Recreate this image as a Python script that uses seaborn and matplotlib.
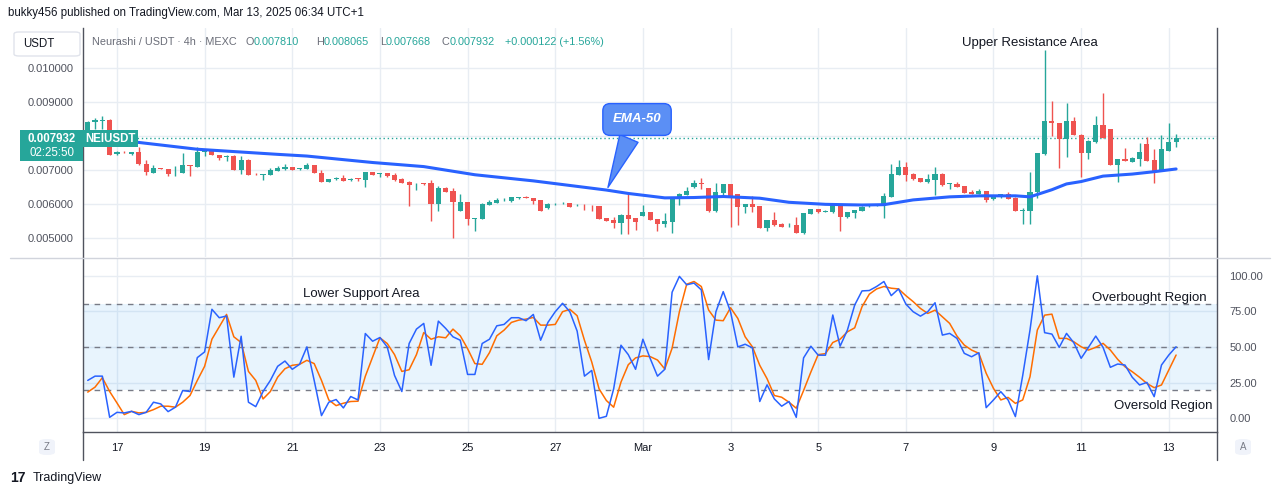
# -*- coding: utf-8 -*-
# Neurashi / USDT 4h chart with EMA-50 and Stoch RSI (TradingView style)
import numpy as np
import seaborn as sns
import matplotlib.pyplot as plt
from matplotlib.patches import FancyBboxPatch, Rectangle

sns.set_theme(style="white")
plt.rcParams['font.family'] = ['Liberation Sans', 'DejaVu Sans']

# ---------------- data ----------------
opens = [0.00818, 0.00840, 0.00844, 0.00847, 0.00746, 0.00754, 0.00746, 0.00754, 0.00718, 0.00692,
         0.00705, 0.00703, 0.00699, 0.00692, 0.00714, 0.00710, 0.00753, 0.00759, 0.00744, 0.00739,
         0.00742, 0.00700, 0.00730, 0.00689, 0.00686, 0.00686, 0.00696, 0.00703, 0.00708, 0.00702,
         0.00704, 0.00715, 0.00692, 0.00666, 0.00673, 0.00676, 0.00670, 0.00674, 0.00670, 0.00694,
         0.00689, 0.00690, 0.00685, 0.00674, 0.00666, 0.00661, 0.00661, 0.00663, 0.00600, 0.00648,
         0.00639, 0.00578, 0.00606, 0.00557, 0.00556, 0.00597, 0.00602, 0.00611, 0.00610, 0.00619,
         0.00622, 0.00617, 0.00612, 0.00587, 0.00599, 0.00602, 0.00603, 0.00596, 0.00598, 0.00595,
         0.00594, 0.00558, 0.00553, 0.00545, 0.00568, 0.00558, 0.00565, 0.00576, 0.00555, 0.00542,
         0.00548, 0.00614, 0.00626, 0.00649, 0.00661, 0.00646, 0.00578, 0.00633, 0.00659, 0.00629,
         0.00592, 0.00600, 0.00594, 0.00530, 0.00553, 0.00541, 0.00534, 0.00538, 0.00516, 0.00571,
         0.00584, 0.00577, 0.00575, 0.00597, 0.00563, 0.00574, 0.00580, 0.00593, 0.00594, 0.00595,
         0.00621, 0.00686, 0.00708, 0.00688, 0.00676, 0.00666, 0.00670, 0.00688, 0.00660, 0.00659,
         0.00653, 0.00635, 0.00629, 0.00638, 0.00614, 0.00620, 0.00629, 0.00619, 0.00579, 0.00580,
         0.00636, 0.00747, 0.00844, 0.00837, 0.00790, 0.00844, 0.00803, 0.00749, 0.00783, 0.00832,
         0.00820, 0.00715, 0.00732, 0.00724, 0.00732, 0.00776, 0.00730, 0.00697, 0.00756, 0.007810]
highs = [0.00845, 0.00852, 0.00858, 0.00849, 0.00756, 0.00757, 0.00754, 0.00767, 0.00729, 0.00714,
         0.00706, 0.00704, 0.00713, 0.00749, 0.00715, 0.00767, 0.00762, 0.00760, 0.00745, 0.00744,
         0.00743, 0.00742, 0.00731, 0.00690, 0.00688, 0.00706, 0.00712, 0.00718, 0.00709, 0.00706,
         0.00720, 0.00716, 0.00700, 0.00674, 0.00678, 0.00685, 0.00675, 0.00675, 0.00695, 0.00695,
         0.00691, 0.00691, 0.00692, 0.00675, 0.00667, 0.00663, 0.00662, 0.00670, 0.00653, 0.00651,
         0.00648, 0.00630, 0.00607, 0.00560, 0.00603, 0.00612, 0.00617, 0.00619, 0.00621, 0.00621,
         0.00624, 0.00618, 0.00613, 0.00602, 0.00602, 0.00607, 0.00604, 0.00601, 0.00599, 0.00596,
         0.00595, 0.00559, 0.00562, 0.00570, 0.00631, 0.00559, 0.00597, 0.00577, 0.00556, 0.00573,
         0.00621, 0.00631, 0.00649, 0.00671, 0.00676, 0.00647, 0.00662, 0.00660, 0.00660, 0.00630,
         0.00601, 0.00624, 0.00595, 0.00554, 0.00577, 0.00545, 0.00545, 0.00562, 0.00574, 0.00585,
         0.00586, 0.00582, 0.00599, 0.00598, 0.00577, 0.00583, 0.00593, 0.00597, 0.00601, 0.00631,
         0.00718, 0.00730, 0.00724, 0.00690, 0.00677, 0.00688, 0.00710, 0.00690, 0.00663, 0.00665,
         0.00654, 0.00640, 0.00643, 0.00639, 0.00623, 0.00630, 0.00634, 0.00620, 0.00587, 0.00694,
         0.00750, 0.01053, 0.00903, 0.00838, 0.00898, 0.00855, 0.00805, 0.00787, 0.00859, 0.00927,
         0.00821, 0.00733, 0.00766, 0.00737, 0.00780, 0.00796, 0.00761, 0.00803, 0.00839, 0.008065]
lows = [0.00815, 0.00820, 0.00822, 0.00744, 0.00744, 0.00749, 0.00745, 0.00715, 0.00685, 0.00692,
        0.00702, 0.00683, 0.00681, 0.00692, 0.00683, 0.00710, 0.00742, 0.00744, 0.00730, 0.00727,
        0.00700, 0.00688, 0.00685, 0.00686, 0.00672, 0.00686, 0.00696, 0.00701, 0.00700, 0.00701,
        0.00704, 0.00690, 0.00666, 0.00665, 0.00670, 0.00668, 0.00669, 0.00667, 0.00651, 0.00686,
        0.00680, 0.00679, 0.00668, 0.00663, 0.00594, 0.00641, 0.00657, 0.00550, 0.00580, 0.00636,
        0.00501, 0.00578, 0.00538, 0.00521, 0.00556, 0.00597, 0.00602, 0.00609, 0.00606, 0.00614,
        0.00617, 0.00600, 0.00580, 0.00584, 0.00598, 0.00599, 0.00592, 0.00593, 0.00582, 0.00580,
        0.00557, 0.00550, 0.00530, 0.00512, 0.00512, 0.00524, 0.00564, 0.00553, 0.00521, 0.00531,
        0.00516, 0.00597, 0.00625, 0.00648, 0.00643, 0.00577, 0.00577, 0.00624, 0.00533, 0.00538,
        0.00574, 0.00577, 0.00530, 0.00521, 0.00536, 0.00532, 0.00533, 0.00515, 0.00511, 0.00570,
        0.00574, 0.00575, 0.00574, 0.00521, 0.00558, 0.00558, 0.00579, 0.00591, 0.00593, 0.00560,
        0.00621, 0.00686, 0.00669, 0.00670, 0.00665, 0.00663, 0.00627, 0.00654, 0.00645, 0.00650,
        0.00632, 0.00629, 0.00628, 0.00607, 0.00613, 0.00619, 0.00615, 0.00578, 0.00540, 0.00540,
        0.00617, 0.00745, 0.00800, 0.00707, 0.00739, 0.00802, 0.00679, 0.00732, 0.00780, 0.00794,
        0.00714, 0.00666, 0.00725, 0.00723, 0.00712, 0.00726, 0.00663, 0.00696, 0.00755, 0.007668]
closes = [0.00842, 0.00847, 0.00846, 0.00744, 0.00754, 0.00752, 0.00752, 0.00717, 0.00695, 0.00705,
          0.00703, 0.00688, 0.00701, 0.00715, 0.00713, 0.00754, 0.00756, 0.00744, 0.00735, 0.00741,
          0.00700, 0.00730, 0.00685, 0.00687, 0.00687, 0.00699, 0.00706, 0.00708, 0.00700, 0.00705,
          0.00715, 0.00690, 0.00666, 0.00673, 0.00675, 0.00669, 0.00673, 0.00673, 0.00694, 0.00686,
          0.00690, 0.00682, 0.00670, 0.00663, 0.00656, 0.00662, 0.00659, 0.00600, 0.00647, 0.00636,
          0.00607, 0.00606, 0.00556, 0.00559, 0.00600, 0.00607, 0.00612, 0.00613, 0.00620, 0.00620,
          0.00618, 0.00610, 0.00580, 0.00601, 0.00601, 0.00604, 0.00592, 0.00598, 0.00596, 0.00593,
          0.00557, 0.00551, 0.00545, 0.00568, 0.00557, 0.00548, 0.00576, 0.00553, 0.00542, 0.00550,
          0.00614, 0.00629, 0.00638, 0.00663, 0.00659, 0.00578, 0.00634, 0.00659, 0.00624, 0.00592,
          0.00600, 0.00592, 0.00530, 0.00553, 0.00538, 0.00533, 0.00536, 0.00516, 0.00573, 0.00584,
          0.00575, 0.00579, 0.00597, 0.00563, 0.00576, 0.00582, 0.00592, 0.00595, 0.00596, 0.00624,
          0.00688, 0.00708, 0.00686, 0.00674, 0.00666, 0.00673, 0.00688, 0.00655, 0.00662, 0.00651,
          0.00633, 0.00630, 0.00638, 0.00612, 0.00622, 0.00629, 0.00616, 0.00578, 0.00581, 0.00636,
          0.00749, 0.00844, 0.00837, 0.00790, 0.00844, 0.00803, 0.00749, 0.00785, 0.00832, 0.00795,
          0.00715, 0.00732, 0.00727, 0.00736, 0.00752, 0.00727, 0.00697, 0.00762, 0.00781, 0.007932]

# EMA-50 read at a set of bars (bar index, value)
ema_bar = [0, 7, 15, 26, 30, 39, 46, 53, 61, 71, 74, 79, 83, 87, 92, 96, 101, 106, 109,
           113, 118, 122, 127, 129, 132, 134, 136, 139, 143, 146, 149]
ema_val = [0.00798, 0.00781, 0.00761, 0.00746, 0.00741, 0.00722, 0.00710, 0.00686, 0.00668,
           0.00641, 0.00631, 0.00618, 0.00619, 0.00622, 0.00617, 0.00605, 0.00599, 0.00597,
           0.00598, 0.00612, 0.00621, 0.00624, 0.00624, 0.00621, 0.00642, 0.00659, 0.00666,
           0.00682, 0.00688, 0.00695, 0.00703]

stoch_k = [26.6, 29.6, 29.6, 0.7, 4.2, 3.8, 4.9, 2.6, 4.2, 11.3,
           10.1, 4.7, 7.8, 19.5, 18.8, 42.6, 46.6, 76.5, 70.6, 71.8,
           28.9, 57.6, 11.3, 8.2, 18.8, 26.6, 36.5, 40.2, 34.4, 37.9,
           50.1, 26.6, 1.9, 11.3, 13.2, 7.3, 15.3, 12.9, 59.5, 54.1,
           56.7, 50.1, 30.1, 18.8, 52.5, 62.6, 66.6, 37.2, 68.2, 63.1,
           57.2, 54.8, 30.8, 30.8, 52.5, 55.5, 64.9, 65.9, 70.6, 70.6,
           68.5, 72.9, 54.8, 67.3, 74.8, 80.7, 74.8, 61.2, 29.6, 33.6,
           0.0, 1.4, 20.7, 51.3, 44.7, 34.4, 55.5, 42.0, 29.6, 34.4,
           88.5, 99.6, 93.7, 94.9, 90.1, 41.2, 74.8, 88.9, 74.8, 50.1,
           52.0, 49.4, 11.8, 23.5, 13.6, 8.5, 11.8, 0.7, 42.4, 50.6,
           44.3, 44.3, 72.5, 50.6, 61.9, 79.5, 89.4, 89.7, 92.5, 96.0,
           86.1, 90.8, 80.2, 74.8, 71.7, 74.8, 81.1, 58.4, 59.6, 56.1,
           45.6, 43.2, 46.0, 7.5, 12.9, 18.7, 12.9, 1.2, 30.0, 62.0,
           100.0, 60.1, 59.1, 49.8, 59.6, 53.0, 42.1, 49.8, 57.7, 49.8,
           35.8, 38.1, 37.4, 28.8, 23.4, 25.2, 15.2, 37.4, 44.4, 50.2]
stoch_d = [18.4, 21.9, 28.5, 18.8, 10.8, 2.6, 4.9, 3.8, 4.2, 6.1,
           8.5, 8.5, 7.8, 11.3, 16.0, 26.6, 36.5, 55.5, 64.2, 72.9,
           57.2, 53.2, 32.9, 26.6, 13.6, 18.8, 28.9, 34.8, 37.2, 37.9,
           40.7, 38.4, 26.6, 12.9, 8.9, 10.6, 11.8, 12.0, 29.5, 43.1,
           56.5, 52.5, 44.7, 32.9, 34.1, 44.7, 60.2, 55.5, 57.2, 56.5,
           62.6, 57.9, 48.9, 38.4, 37.9, 46.1, 57.9, 61.9, 67.3, 68.9,
           69.6, 70.8, 65.4, 65.4, 65.9, 74.8, 76.5, 72.0, 54.8, 39.5,
           20.7, 12.5, 7.8, 25.4, 37.6, 42.4, 43.8, 43.3, 40.9, 34.6,
           49.2, 74.8, 94.1, 96.0, 92.5, 76.0, 68.9, 68.5, 77.6, 70.1,
           57.2, 50.1, 37.2, 27.8, 16.0, 14.8, 11.3, 7.1, 19.5, 32.5,
           44.7, 45.4, 53.2, 55.5, 60.7, 63.5, 78.3, 87.1, 90.8, 92.5,
           91.3, 90.8, 86.1, 81.9, 77.1, 73.6, 75.9, 71.3, 66.6, 57.7,
           51.4, 47.9, 45.6, 31.6, 21.0, 12.9, 14.7, 10.5, 12.9, 29.2,
           61.9, 72.4, 73.1, 56.1, 56.1, 53.7, 50.2, 47.9, 49.8, 52.6,
           47.9, 41.4, 36.2, 32.7, 28.8, 24.5, 21.5, 23.4, 33.9, 44.4]

# date labels sit on the first bar of each labelled day (01:00 bar)
date_labels = ['17', '19', '21', '23', '25', '27', 'Mar', '3', '5', '7', '9', '11', '13']
date_bars = [4, 16, 28, 40, 52, 64, 76, 88, 100, 112, 124, 136, 148]
price_ticks = [0.005, 0.006, 0.007, 0.008, 0.009, 0.010]
stoch_ticks = [0, 25, 50, 75, 100]

# ---------------- style ----------------
GREEN = '#26a69a'
RED = '#ef5350'
GRID = '#e8edf3'
TXT = '#131722'
AXTXT = '#50535e'
BORDER = '#50535e'

W, H = 1281, 496
fig = plt.figure(figsize=(W / 100, H / 100), dpi=100)
fig.patch.set_facecolor('white')


def fx(x):
    return x / W


def fy(y):
    return 1 - y / H


def axes_at(x0, y0, x1, y1):
    return fig.add_axes([fx(x0), fy(y1), fx(x1) - fx(x0), fy(y0) - fy(y1)])


def rect(x0, y0, x1, y1, **kw):
    fig.patches.append(Rectangle((fx(x0), fy(y1)), fx(x1) - fx(x0), fy(y0) - fy(y1),
                                 transform=fig.transFigure, **kw))


def txt(x, y, s, **kw):
    kw.setdefault('va', 'center')
    fig.text(fx(x), fy(y), s, **kw)


ax1 = axes_at(83, 28, 1217, 257)
ax2 = axes_at(83, 258, 1217, 432)

xlim = (-0.65, 154.6)
bars = np.arange(len(closes))
o, hi, lo, c = (np.array(a) for a in (opens, highs, lows, closes))
col = np.where(c >= o, GREEN, RED)

# ---------------- price pane ----------------
for ax in (ax1, ax2):
    ax.set_facecolor('white')
    ax.set_xlim(*xlim)
    ax.set_xticks(date_bars)
    ax.grid(True, color=GRID, linewidth=1)
    ax.set_axisbelow(True)
    ax.spines['top'].set_visible(False)
    for s in ('left', 'right', 'bottom'):
        ax.spines[s].set_color(BORDER)
        ax.spines[s].set_linewidth(1)

ax1.vlines(bars, lo, hi, colors=col, linewidth=1, zorder=2)
ax1.bar(bars, np.maximum(np.abs(c - o), 0.00002), bottom=np.minimum(o, c),
        width=0.7, color=col, linewidth=0, zorder=3)
sns.lineplot(x=ema_bar, y=ema_val, ax=ax1, color='#2962ff', linewidth=2.2, zorder=4)
ax1.axhline(closes[-1], color=GREEN, linestyle=(0, (1, 2)), linewidth=1, zorder=1)

ax1.set_ylim(0.004441, 0.011176)
ax1.set_yticks(price_ticks)
ax1.set_yticklabels(['%.6f' % p for p in price_ticks])
ax1.tick_params(axis='y', length=0, pad=7, labelsize=8, labelcolor=AXTXT)
ax1.tick_params(axis='x', length=0, labelbottom=False)
ax1.spines['bottom'].set_visible(False)
ax1.set_xlabel('')
ax1.set_ylabel('')

ax1.annotate('EMA-50', xy=(71.07, 0.006412), xytext=(75.2, 0.008485),
             color='white', fontsize=9.5, fontweight='bold', fontstyle='italic',
             ha='center', va='center', zorder=6,
             bbox=dict(boxstyle='round,pad=0.75,rounding_size=0.55', fc='#5b8ff5', ec='#2962ff', lw=1),
             arrowprops=dict(arrowstyle='wedge,tail_width=1.5,shrink_factor=0.5',
                             fc='#5b8ff5', ec='#2962ff', lw=1))

# ---------------- stoch pane ----------------
ax2.axhspan(20, 80, color='#2196f3', alpha=0.1, linewidth=0, zorder=1)
for lvl in (80, 50, 20):
    ax2.axhline(lvl, color='#787b86', linestyle=(0, (4, 4)), linewidth=1, zorder=2)
sns.lineplot(x=bars, y=stoch_d, ax=ax2, color='#ff6d00', linewidth=1.1, zorder=3)
sns.lineplot(x=bars, y=stoch_k, ax=ax2, color='#2962ff', linewidth=1.1, zorder=4)
ax2.set_ylim(-9.6, 112.5)
ax2.yaxis.tick_right()
ax2.set_yticks(stoch_ticks)
ax2.set_yticklabels(['%.2f' % v for v in stoch_ticks])
ax2.tick_params(axis='y', length=0, pad=9, labelsize=8, labelcolor=AXTXT)
ax2.set_xticklabels(date_labels)
ax2.tick_params(axis='x', length=0, pad=8, labelsize=8, labelcolor=TXT)
ax2.set_xlabel('')
ax2.set_ylabel('')

# ---------------- frame / furniture ----------------
fig.add_artist(plt.Line2D([fx(10), fx(1270)], [fy(257.5), fy(257.5)], color='#d1d4dc', lw=1))
fig.add_artist(plt.Line2D([fx(83), fx(83)], [fy(432), fy(460)], color=BORDER, lw=1))
fig.add_artist(plt.Line2D([fx(1217), fx(1217)], [fy(432), fy(460)], color=BORDER, lw=1))

# header
txt(8, 13, 'bukky456 published on TradingView.com, Mar 13, 2025 06:34 UTC+1', fontsize=8.3, color=TXT)
fig.patches.append(FancyBboxPatch((fx(14), fy(56)), fx(80) - fx(14), fy(32) - fy(56),
                                  boxstyle='round,pad=0,rounding_size=0.004',
                                  transform=fig.transFigure, fc='white', ec='#e0e3eb', lw=1))
txt(23, 44, 'USDT', fontsize=8.3, color=TXT)

# legend line
LEG = 7.8
txt(92, 42, 'Neurashi / USDT \u00b7 4h \u00b7 MEXC', fontsize=LEG, color='#6a6d78')
for lab, val, x in (('O', '0.007810', 246), ('H', '0.008065', 316),
                    ('L', '0.007668', 380), ('C', '0.007932', 442)):
    txt(x, 42, lab, fontsize=LEG, color='#6a6d78')
    txt(x + (6 if lab == 'L' else 8), 42, val, fontsize=LEG, color=GREEN)
txt(505, 42, '+0.000122 (+1.56%)', fontsize=LEG, color=GREEN)

# last price labels
rect(20, 130, 83, 161, fc=GREEN, ec='none')
txt(51.5, 138.5, '0.007932', fontsize=8.3, color='white', fontweight='bold', ha='center')
txt(51.5, 153, '02:25:50', fontsize=8.3, color='white', ha='center')
rect(83, 130, 138, 147, fc=GREEN, ec='none', zorder=5)
txt(110.5, 138.5, 'NEIUSDT', fontsize=8.3, color='white', fontweight='bold', ha='center', zorder=6)

# annotations
txt(962, 43, 'Upper Resistance Area', fontsize=9.5, color=TXT)
txt(303, 294, 'Lower Support Area', fontsize=9.5, color=TXT)
txt(1092, 298, 'Overbought Region', fontsize=9.5, color=TXT)
txt(1114, 406, 'Oversold Region', fontsize=9.5, color=TXT)

# Z / A buttons
for x, s in ((47, 'Z'), (1243, 'A')):
    fig.patches.append(FancyBboxPatch((fx(x - 8), fy(455)), fx(16), fy(439) - fy(455),
                                      boxstyle='round,pad=0,rounding_size=0.006',
                                      transform=fig.transFigure, fc='#f0f3fa', ec='none'))
    txt(x, 447, s, fontsize=7, color='#787b86', ha='center')

# footer logo
txt(10, 478, '17', fontsize=10, color=TXT, fontweight='bold')
txt(33, 478, 'TradingView', fontsize=9, color=TXT)

fig.savefig('out.png', dpi=100, facecolor='white')
